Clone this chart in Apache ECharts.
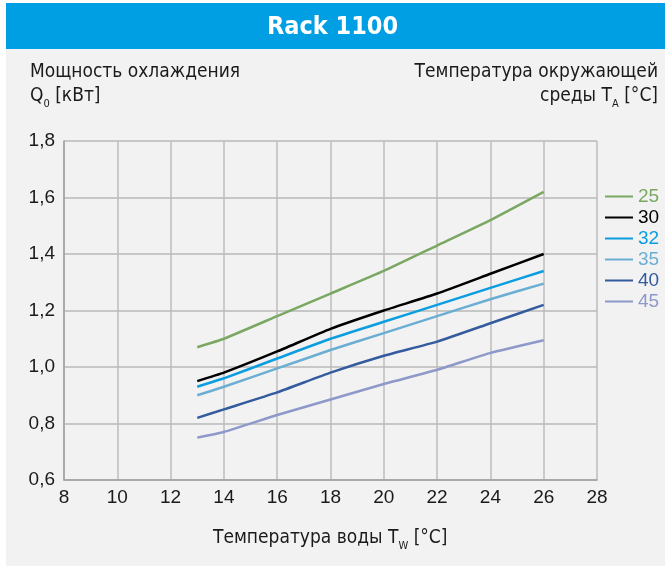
<!DOCTYPE html>
<html><head><meta charset="utf-8">
<script src="https://cdn.jsdelivr.net/npm/echarts@6/dist/echarts.min.js"></script>
<style>html,body{margin:0;padding:0;background:#fff}#c{width:665px;height:566px}</style>
</head><body><div id="c"></div>
<script>
// Data
const waterTemps = [13, 14, 16, 18, 20, 22, 24, 26];
const ambientTemps = ['25', '30', '32', '35', '40', '45'];
const q25 = [1.07, 1.10, 1.18, 1.26, 1.34, 1.43, 1.52, 1.62];
const q30 = [0.95, 0.98, 1.055, 1.135, 1.20, 1.26, 1.33, 1.40];
const q32 = [0.93, 0.96, 1.03, 1.10, 1.16, 1.22, 1.28, 1.34];
const q35 = [0.90, 0.93, 0.995, 1.06, 1.12, 1.18, 1.24, 1.295];
const q40 = [0.82, 0.85, 0.91, 0.98, 1.04, 1.09, 1.155, 1.22];
const q45 = [0.75, 0.77, 0.83, 0.885, 0.94, 0.99, 1.05, 1.095];
const xTickMin = 8, xTickMax = 28, xTickStep = 2;
const yTickMin = 0.6, yTickMax = 1.8, yTickStep = 0.2;

const seriesValues = [q25, q30, q32, q35, q40, q45];
const colors = ['#7aa863', '#000000', '#0a9de0', '#6aaed3', '#355b9f', '#8d99c9'];

const narrow = '"Liberation Sans Narrow","DejaVu Sans Condensed","Liberation Sans",sans-serif';
const regular = '"Liberation Sans",Arial,sans-serif';

const chart = echarts.init(document.getElementById('c'), null, {renderer: 'canvas'});

const series = ambientTemps.map((name, i) => ({
  name: name,
  type: 'line',
  data: waterTemps.map((x, j) => [x, seriesValues[i][j]]),
  symbol: 'none',
  smooth: 0.15,
  lineStyle: {color: colors[i], width: 2.5},
  itemStyle: {color: colors[i]},
  z: 10 - i,
  silent: true
}));

const fmtComma = v => (Math.round(v * 10) / 10).toFixed(1).replace('.', ',');

const richSub = {
  m: {font: '19px ' + narrow, fill: '#1a1a1a', lineHeight: 26, verticalAlign: 'middle'},
  s: {font: '11px ' + narrow, fill: '#1a1a1a', lineHeight: 11, verticalAlign: 'bottom'}
};

chart.setOption({
  animation: false,
  backgroundColor: '#ffffff',
  graphic: [
    {type: 'rect', left: 6, top: 3, shape: {width: 659, height: 563}, style: {fill: '#f2f2f2'}, z: -10},
    {type: 'rect', left: 6, top: 3, shape: {width: 659, height: 46}, style: {fill: '#009fe3'}, z: -9},
    {type: 'text', left: 'center', top: 15, style: {text: 'Rack 1100', fill: '#ffffff', font: 'bold 25px ' + narrow}},
    {type: 'text', left: 30, top: 63, style: {text: 'Мощность охлаждения', fill: '#1a1a1a', font: '19px ' + narrow}},
    {type: 'text', left: 30, top: 87, style: {text: '{m|Q}{s|0}{m| [кВт]}', fill: '#1a1a1a', font: '19px ' + narrow, rich: richSub}},
    {type: 'text', right: 7, top: 63, style: {text: 'Температура окружающей', fill: '#1a1a1a', font: '19px ' + narrow}},
    {type: 'text', right: 7, top: 87, style: {text: '{m|среды T}{s|A}{m| [°C]}', fill: '#1a1a1a', font: '19px ' + narrow, rich: richSub}},
    {type: 'text', left: 213, top: 529, style: {text: '{m|Температура воды T}{s|W}{m| [°C]}', fill: '#1a1a1a', font: '19px ' + narrow, rich: richSub}}
  ],
  grid: {left: 64, right: 68, top: 141, bottom: 86, show: false},
  legend: {
    orient: 'vertical',
    left: 605,
    top: 187,
    padding: 0,
    itemWidth: 28,
    itemHeight: 2,
    itemGap: 2,
    icon: 'rect',
    selectedMode: false,
    data: ambientTemps.map((n, i) => ({name: n, textStyle: {color: colors[i]}, itemStyle: {color: colors[i]}})),
    textStyle: {fontSize: 19, fontFamily: regular, lineHeight: 17, padding: 0}
  },
  xAxis: {
    type: 'value',
    min: xTickMin, max: xTickMax, interval: xTickStep,
    axisLine: {show: true, lineStyle: {color: '#a0a0a0', width: 1.5}},
    axisTick: {show: false},
    axisLabel: {color: '#1a1a1a', fontSize: 19, fontFamily: regular, margin: 8},
    splitLine: {show: true, lineStyle: {color: '#bdbdbd', width: 1.5}}
  },
  yAxis: {
    type: 'value',
    min: yTickMin, max: yTickMax, interval: yTickStep,
    axisLine: {show: true, lineStyle: {color: '#a0a0a0', width: 1.5}},
    axisTick: {show: false},
    axisLabel: {color: '#1a1a1a', fontSize: 19, fontFamily: regular, margin: 9, formatter: fmtComma},
    splitLine: {show: true, lineStyle: {color: '#b8b8b8', width: 1.5}}
  },
  series: series
});
</script>
</body></html>
